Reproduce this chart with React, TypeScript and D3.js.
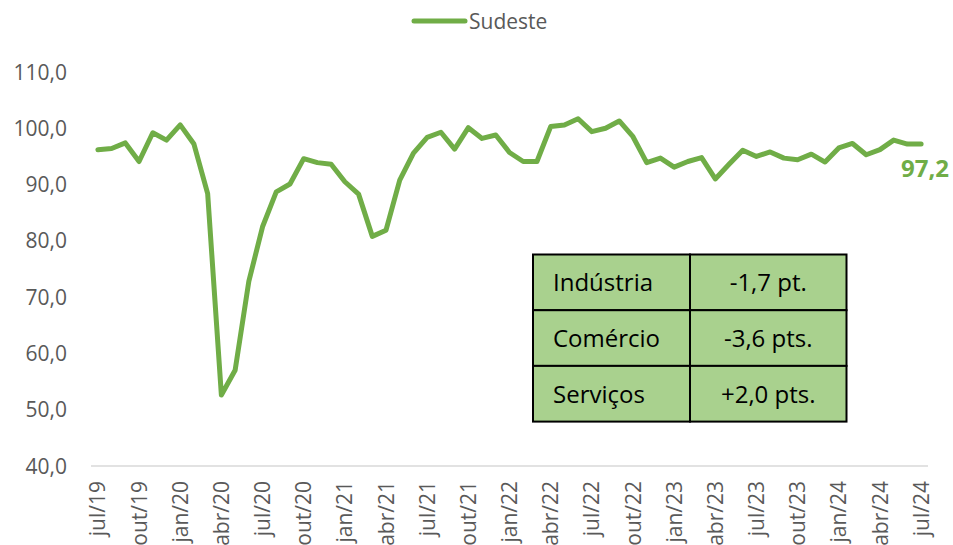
import React from "react";
import * as d3 from "d3";

const monthNames = ["jan", "fev", "mar", "abr", "mai", "jun", "jul", "ago", "set", "out", "nov", "dez"];

// Sudeste index, jul/2019 .. jul/2024 (monthly)
const sudeste = [
  96.2, 96.4, 97.4, 94.1, 99.2, 97.9, 100.6, 97.2, 88.4, 52.6,
  57.0, 72.8, 82.5, 88.7, 90.1, 94.6, 93.9, 93.6, 90.5, 88.3,
  80.8, 81.9, 90.8, 95.6, 98.4, 99.3, 96.3, 100.1, 98.2, 98.8,
  95.7, 94.1, 94.1, 100.3, 100.6, 101.7, 99.4, 100.0, 101.3, 98.5,
  93.9, 94.7, 93.1, 94.1, 94.8, 91.0, 93.6, 96.1, 95.0, 95.8,
  94.7, 94.4, 95.4, 94.0, 96.5, 97.3, 95.3, 96.2, 97.9, 97.2,
  97.2,
];

const yTicks = [40, 50, 60, 70, 80, 90, 100, 110];

const tableRows = ["Indústria", "Comércio", "Serviços"];
const tableValues = ["-1,7 pt.", "-3,6 pts.", "+2,0 pts."];

const seriesName = "Sudeste";
const lastLabel = "97,2";

const startYear = 2019;
const startMonth = 6; // jul

const months = sudeste.map((_, i) => {
  const m = (startMonth + i) % 12;
  const y = startYear + Math.floor((startMonth + i) / 12);
  return `${monthNames[m]}/${String(y).slice(2)}`;
});

const GREEN = "#70AD47";
const GRAY = "#595959";
const FONT = "'Open Sans', sans-serif";

export default function App() {
  const W = 953;
  const H = 545;
  const x = d3.scaleLinear().domain([0, sudeste.length - 1]).range([97.9, 921.1]);
  const y = d3.scaleLinear().domain([40, 110]).range([466, 72]);
  const line = d3
    .line<number>()
    .x((_, i) => x(i))
    .y((d) => y(d));

  const tickIdx = months.map((_, i) => i).filter((i) => i % 3 === 0);

  const tX0 = 533, tX1 = 690, tX2 = 846.5;
  const tY0 = 254.5, rowH = 55.7;

  return (
    <svg
      width={W}
      height={H}
      style={{ position: "absolute", left: 0, top: 0, background: "#fff" }}
      fontFamily={FONT}
    >
      {/* legend */}
      <line x1={414} x2={465} y1={21} y2={21} stroke={GREEN} strokeWidth={5} strokeLinecap="round" />
      <text x={469} y={28.5} fontSize={21} fill={GRAY}>
        {seriesName}
      </text>

      {/* y axis labels */}
      {yTicks.map((t) => (
        <text key={t} x={67} y={y(t)} dy="0.36em" textAnchor="end" fontSize={21} fill={GRAY}>
          {d3.format(".1f")(t).replace(".", ",")}
        </text>
      ))}

      {/* x axis line */}
      <line x1={91} x2={928} y1={466} y2={466} stroke="#D9D9D9" strokeWidth={1.5} />

      {/* x labels */}
      {tickIdx.map((i) => (
        <text
          key={i}
          transform={`translate(${x(i)},481) rotate(-90)`}
          textAnchor="end"
          dy="0.36em"
          fontSize={21}
          fill={GRAY}
        >
          {months[i]}
        </text>
      ))}

      {/* line */}
      <path d={line(sudeste) || ""} fill="none" stroke={GREEN} strokeWidth={5} strokeLinejoin="round" strokeLinecap="round" />

      {/* last label */}
      <text x={949} y={y(sudeste[sudeste.length - 1]) + 33} textAnchor="end" fontSize={24} fontWeight="bold" fill={GREEN}>
        {lastLabel}
      </text>

      {/* table */}
      {tableRows.map((r, i) => (
        <g key={r}>
          <rect x={tX0} y={tY0 + i * rowH} width={tX1 - tX0} height={rowH} fill="#A9D18E" stroke="#000" strokeWidth={2} />
          <rect x={tX1} y={tY0 + i * rowH} width={tX2 - tX1} height={rowH} fill="#A9D18E" stroke="#000" strokeWidth={2} />
          <text x={tX0 + 20} y={tY0 + i * rowH + rowH / 2 + 9} fontSize={24} fill="#000">
            {r}
          </text>
          <text x={(tX1 + tX2) / 2} y={tY0 + i * rowH + rowH / 2 + 9} fontSize={24} fill="#000" textAnchor="middle">
            {tableValues[i]}
          </text>
        </g>
      ))}
    </svg>
  );
}
